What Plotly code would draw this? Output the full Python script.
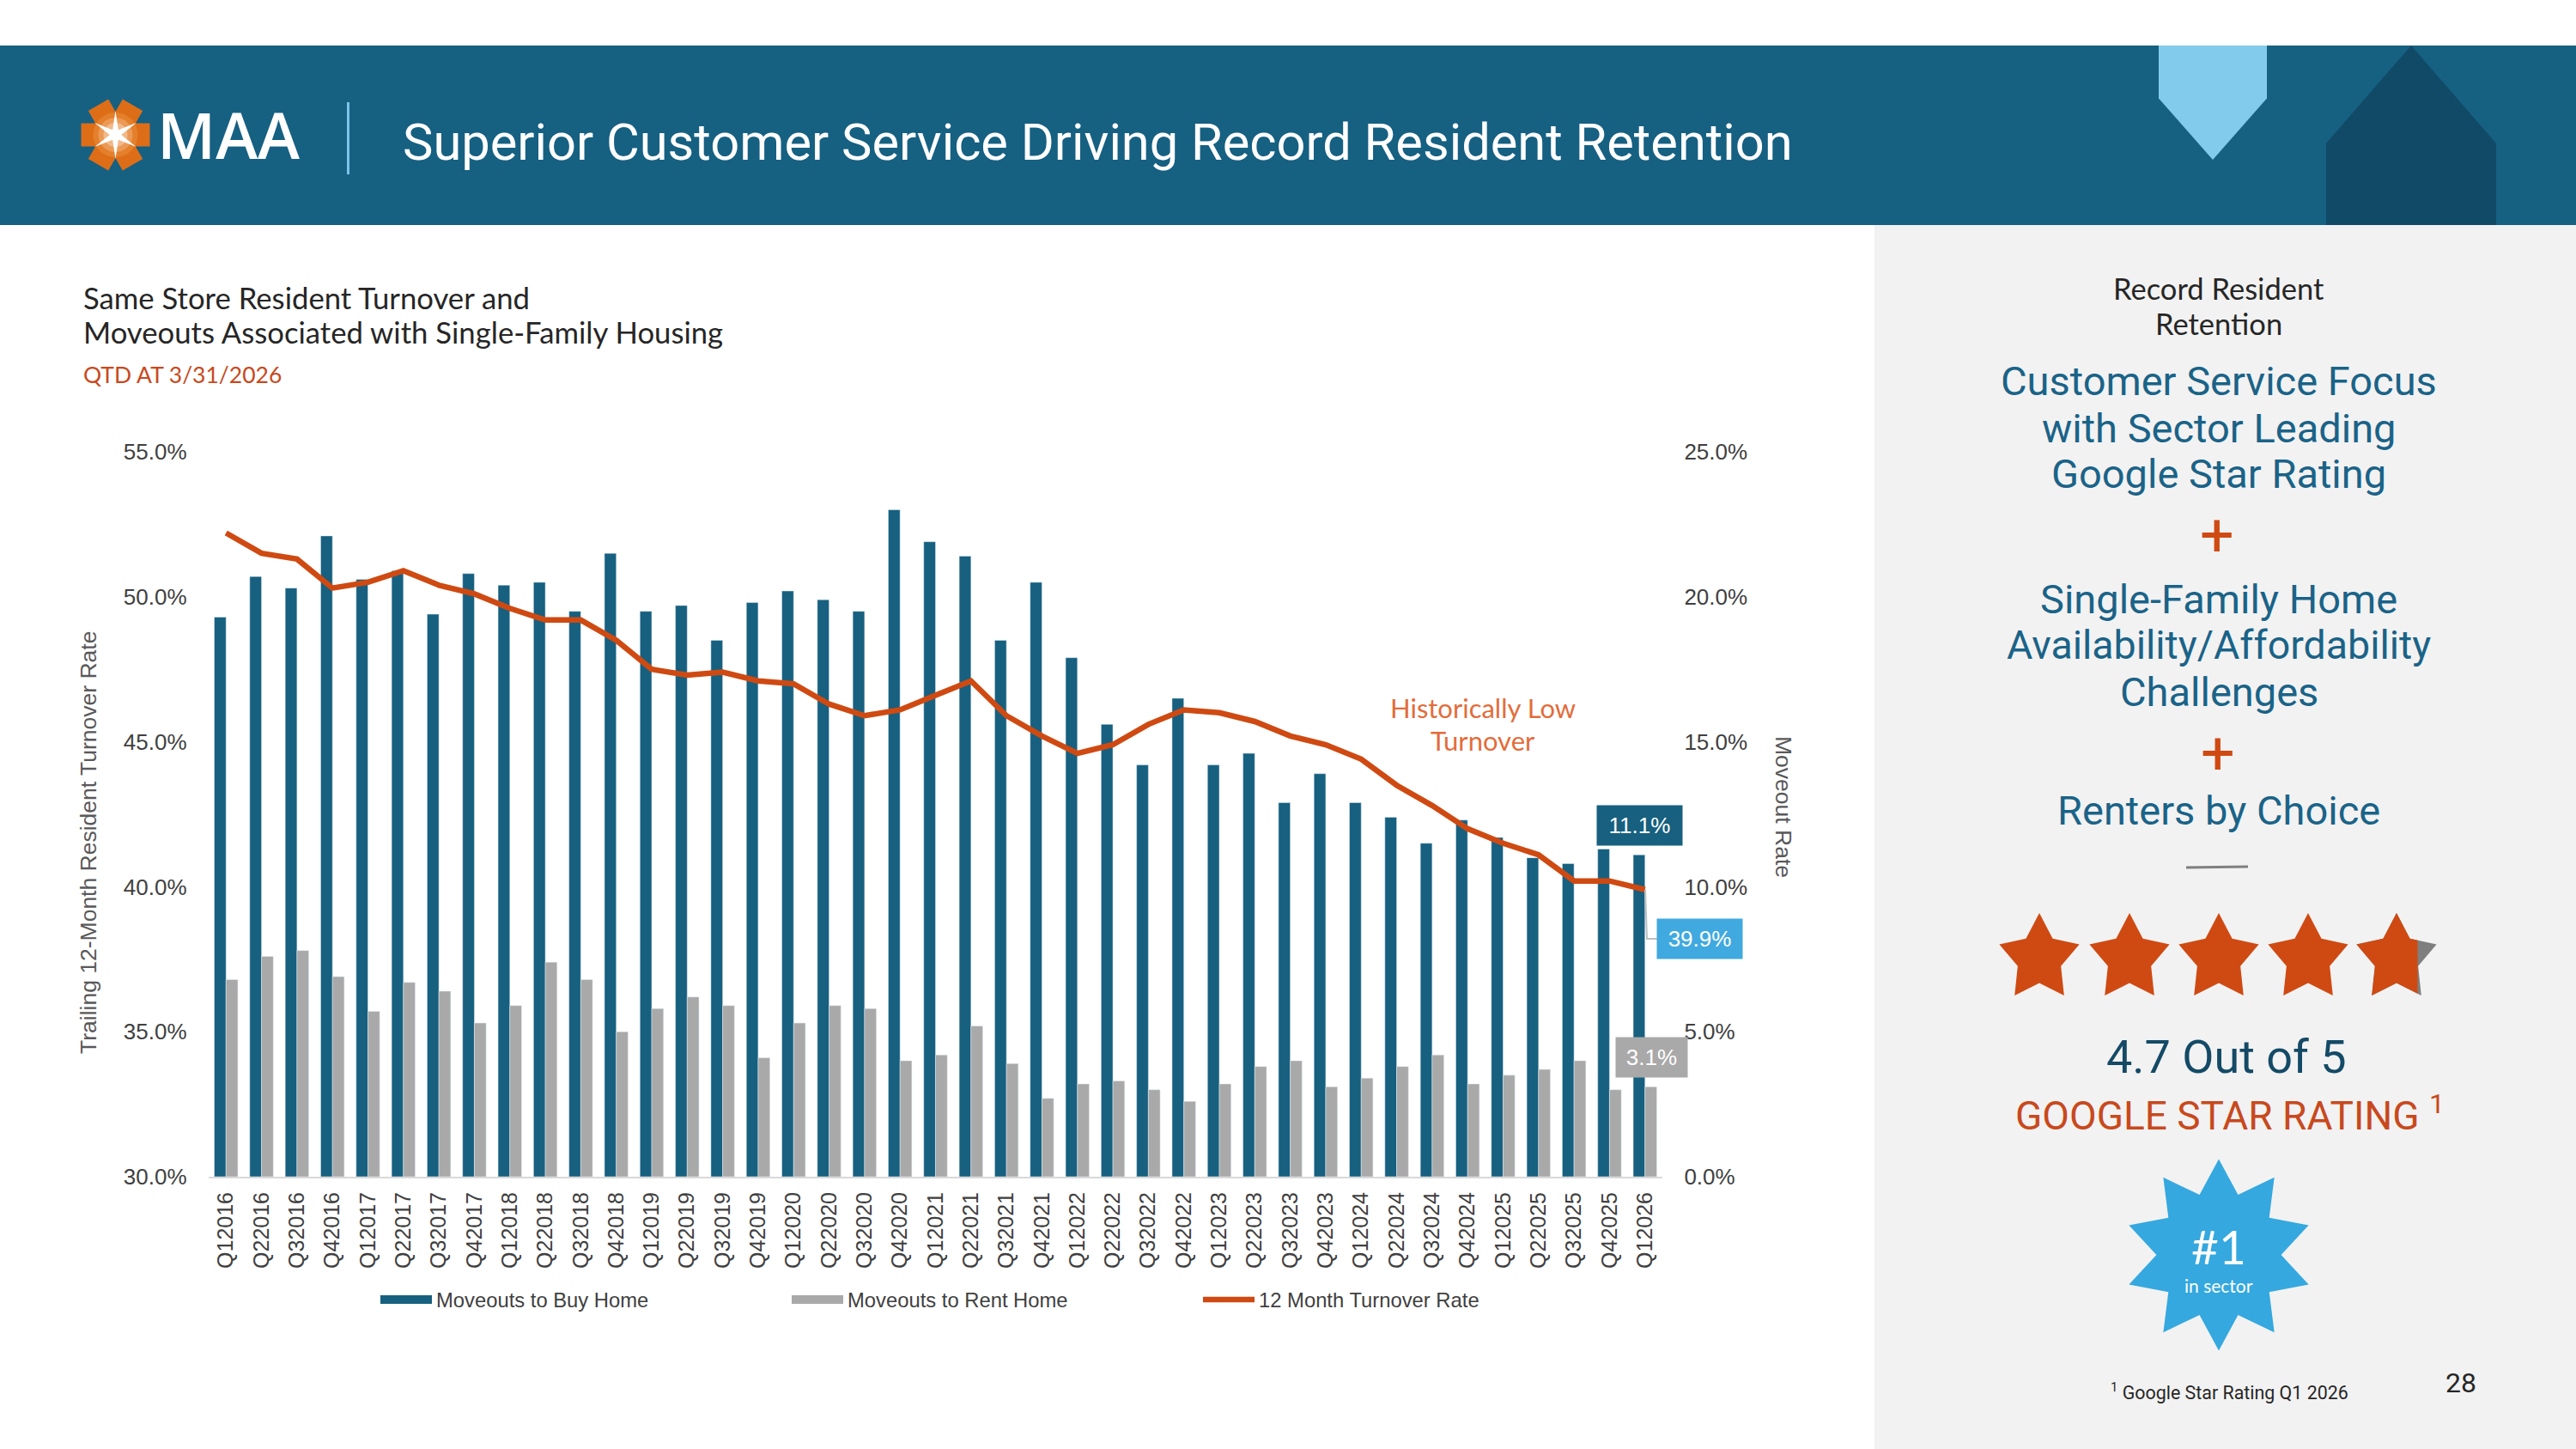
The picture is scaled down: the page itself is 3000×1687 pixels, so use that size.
import math
import plotly.graph_objects as go

W, H = 3000, 1687

quarters = [
    "Q12016", "Q22016", "Q32016", "Q42016", "Q12017", "Q22017", "Q32017", "Q42017",
    "Q12018", "Q22018", "Q32018", "Q42018", "Q12019", "Q22019", "Q32019", "Q42019",
    "Q12020", "Q22020", "Q32020", "Q42020", "Q12021", "Q22021", "Q32021", "Q42021",
    "Q12022", "Q22022", "Q32022", "Q42022", "Q12023", "Q22023", "Q32023", "Q42023",
    "Q12024", "Q22024", "Q32024", "Q42024", "Q12025", "Q22025", "Q32025", "Q42025",
    "Q12026",
]
buy_home = [
    19.3, 20.7, 20.3, 22.1, 20.6, 20.9, 19.4, 20.8,
    20.4, 20.5, 19.5, 21.5, 19.5, 19.7, 18.5, 19.8,
    20.2, 19.9, 19.5, 23.0, 21.9, 21.4, 18.5, 20.5,
    17.9, 15.6, 14.2, 16.5, 14.2, 14.6, 12.9, 13.9,
    12.9, 12.4, 11.5, 12.3, 11.7, 11.0, 10.8, 11.3,
    11.1,
]
rent_home = [
    6.8, 7.6, 7.8, 6.9, 5.7, 6.7, 6.4, 5.3,
    5.9, 7.4, 6.8, 5.0, 5.8, 6.2, 5.9, 4.1,
    5.3, 5.9, 5.8, 4.0, 4.2, 5.2, 3.9, 2.7,
    3.2, 3.3, 3.0, 2.6, 3.2, 3.8, 4.0, 3.1,
    3.4, 3.8, 4.2, 3.2, 3.5, 3.7, 4.0, 3.0,
    3.1,
]
turnover = [
    52.2, 51.5, 51.3, 50.3, 50.5, 50.9, 50.4, 50.1,
    49.6, 49.2, 49.2, 48.5, 47.5, 47.3, 47.4, 47.1,
    47.0, 46.3, 45.9, 46.1, 46.6, 47.1, 45.9, 45.2,
    44.6, 44.9, 45.6, 46.1, 46.0, 45.7, 45.2, 44.9,
    44.4, 43.5, 42.8, 42.0, 41.5, 41.1, 40.2, 40.2,
    39.9,
]
left_ticks = [30, 35, 40, 45, 50, 55]
right_ticks = [0, 5, 10, 15, 20, 25]

NAVY = "#17607F"
GREY = "#A9A9A9"
RUST = "#CF4A12"
SKY = "#40A9E0"
INK = "#404040"

BODY = "Roboto"
HUMANIST = "Lato"
AXIS = "Liberation Sans"


def px(x):
    return x / W


def py(y):
    return 1 - y / H


def text(x, y, s, size, color, font=BODY, anchor="center", angle=0, weight=None):
    fnt = dict(family=font, size=size, color=color)
    if weight:
        fnt["weight"] = weight
    return dict(
        xref="paper", yref="paper", x=px(x), y=py(y), text=s, showarrow=False,
        xanchor=anchor, yanchor="middle", textangle=angle, font=fnt,
    )


def polygon(points, fill):
    path = "M" + " L".join(f"{px(x):.5f},{py(y):.5f}" for x, y in points) + " Z"
    return dict(type="path", xref="paper", yref="paper", path=path,
                fillcolor=fill, line=dict(width=0), layer="below")


def box(x0, y0, x1, y1, fill):
    return polygon([(x0, y0), (x1, y0), (x1, y1), (x0, y1)], fill)


def segment(points, color, width):
    path = "M" + " L".join(f"{px(x):.5f},{py(y):.5f}" for x, y in points)
    return dict(type="path", xref="paper", yref="paper", path=path,
                line=dict(color=color, width=width), layer="above")


def star(cx, cy, rx, ry, inner, tips):
    pts = []
    for i in range(tips * 2):
        a = math.pi * i / tips
        k = 1 if i % 2 == 0 else inner
        pts.append((cx + rx * k * math.sin(a), cy - ry * k * math.cos(a)))
    return pts


def clip_right(points, limit):
    # Keeps the part of a polygon left of a vertical line.
    out = []
    for i, (x0, y0) in enumerate(points):
        x1, y1 = points[(i + 1) % len(points)]
        if x0 <= limit:
            out.append((x0, y0))
        if (x0 <= limit) != (x1 <= limit):
            t = (limit - x0) / (x1 - x0)
            out.append((limit, y0 + t * (y1 - y0)))
    return out


def arm(cx, cy, angle, length, width):
    a = math.radians(angle)
    ux, uy = math.cos(a), math.sin(a)
    vx, vy = -uy, ux
    h = width / 2
    return [
        (cx + vx * h, cy + vy * h),
        (cx + ux * length + vx * h, cy + uy * length + vy * h),
        (cx + ux * length - vx * h, cy + uy * length - vy * h),
        (cx - vx * h, cy - vy * h),
    ]


def disc(cx, cy, r, fill):
    return dict(type="circle", xref="paper", yref="paper",
                x0=px(cx - r), x1=px(cx + r), y0=py(cy + r), y1=py(cy - r),
                fillcolor=fill, line=dict(width=0), layer="below")


fig = go.Figure()

fig.add_trace(go.Bar(x=quarters, y=buy_home, marker_color=NAVY, name="Moveouts to Buy Home",
                     showlegend=False, yaxis="y"))
fig.add_trace(go.Bar(x=quarters, y=rent_home, marker_color=GREY, name="Moveouts to Rent Home",
                     showlegend=False, yaxis="y"))
fig.add_trace(go.Scatter(x=quarters, y=turnover, mode="lines", yaxis="y2", showlegend=False,
                         name="12 Month Turnover Rate",
                         line=dict(color=RUST, width=6.5, shape="linear")))

# Legend rows: wide flat swatches come from thick line keys.
for label, color, width in [("Moveouts to Buy Home", NAVY, 14),
                            ("Moveouts to Rent Home", GREY, 14),
                            ("12 Month Turnover Rate", RUST, 6.5)]:
    fig.add_trace(go.Scatter(x=quarters[:1], y=[None], mode="lines", name=label, yaxis="y2",
                             line=dict(color=color, width=width)))

shapes = [
    box(2183, 262, W, H, "#F2F2F2"),
    box(0, 53, W, 262, "#166082"),
    polygon([(2514, 53), (2640, 53), (2640, 114.5), (2577, 186), (2514, 114.5)], "#83CBEC"),
    polygon([(2808, 53), (2907, 167), (2907, 262), (2709, 262), (2709, 167)], "#114A67"),
]

# Logo mark: six orange arms, a soft glow, a white spark.
LOGO_X, LOGO_Y = 134.5, 157
for ang in (0, 60, 120, 180, 240, 300):
    shapes.append(polygon(arm(LOGO_X, LOGO_Y, ang, 40, 27), "#DD6E17"))
shapes += [
    disc(LOGO_X, LOGO_Y, 26, "#E47F2C"),
    disc(LOGO_X, LOGO_Y, 20, "#EB9A55"),
    disc(LOGO_X, LOGO_Y, 14, "#F2B98A"),
    polygon(star(LOGO_X, LOGO_Y, 28, 28, 0.24, 6), "#FFFFFF"),
]
shapes.append(segment([(405.5, 119), (405.5, 203)], "#7CC4EA", 3))

# Rating stars and the sector badge.
star_x = [2375, 2480, 2584, 2688, 2791]
for cx in star_x[:4]:
    shapes.append(polygon(star(cx, 1116, 49, 53, 0.54, 5), RUST))
last = star(star_x[4], 1116, 49, 53, 0.54, 5)
shapes.append(polygon(last, "#7F7F7F"))
shapes.append(polygon(clip_right(last, 2815.5), RUST))
shapes.append(polygon(star(2584, 1461, 110, 111.5, 0.66, 10), "#35A8DF"))
shapes.append(segment([(2546, 1010), (2618, 1009)], "#7F7F7F", 3))

# Leader from the last turnover point to its label.
shapes.append(segment([(1916, 1036), (1918, 1093), (1931, 1093)], "#BFBFBF", 2))

last_q = quarters[-1]


def value_tag(value, yref, fill, dx, dy, w, h=44):
    return dict(
        x=last_q, y=value, xref="x", yref=yref, text=f"{value:.1f}%", showarrow=False,
        xshift=dx, yshift=dy, width=w, height=h, bgcolor=fill, align="center",
        valign="middle", font=dict(family=AXIS, size=26, color="#FFFFFF"),
    )


annotations = [
    text(181, 156, "MAA", 74, "#FFFFFF", font="Open Sans", anchor="left", weight=600),
    text(467, 166, "Superior Customer Service Driving Record Resident Retention", 59.6, "#FFFFFF", anchor="left"),
    text(95, 347, "Same Store Resident Turnover and", 34.7, "#262626", font=HUMANIST, anchor="left"),
    text(95, 387, "Moveouts Associated with Single-Family Housing", 34.7, "#262626", font=HUMANIST, anchor="left"),
    text(95, 436, "QTD AT 3/31/2026", 26.5, "#C8491D", font=HUMANIST, anchor="left"),
    text(103, 981, "Trailing 12-Month Resident Turnover Rate", 26.5, "#595959", font=AXIS, angle=-90),
    text(2077, 939, "Moveout Rate", 26.5, "#595959", font=AXIS, angle=90),
    text(1727, 824, "Historically Low", 31, "#E36C3A", font=HUMANIST),
    text(1727, 862, "Turnover", 31, "#E36C3A", font=HUMANIST),
    text(2584, 336, "Record Resident", 34.5, "#262626", font=HUMANIST),
    text(2584, 376, "Retention", 34.5, "#262626", font=HUMANIST),
    text(2584, 444, "Customer Service Focus", 47, "#1A6388"),
    text(2584, 498, "with Sector Leading", 47, "#1A6388"),
    text(2584, 552, "Google Star Rating", 47, "#1A6388"),
    text(2582, 623, "+", 70, RUST),
    text(2584, 697, "Single-Family Home", 47, "#1A6388"),
    text(2584, 751, "Availability/Affordability", 46.5, "#1A6388"),
    text(2584, 805, "Challenges", 47, "#1A6388"),
    text(2583, 877, "+", 70, RUST),
    text(2584, 943, "Renters by Choice", 47, "#1A6388"),
    text(2593, 1230, "4.7 Out of 5", 54, "#144A66"),
    text(2597, 1296, "GOOGLE STAR RATING <sup>1</sup>", 46, "#C8491D"),
    text(2584, 1451, "#1", 55, "#FFFFFF", font=HUMANIST),
    text(2584, 1496, "in sector", 21, "#FFFFFF", font=HUMANIST),
    text(2456, 1620, "<sup>1</sup> Google Star Rating Q1 2026", 21.4, "#262626", anchor="left"),
    text(2866, 1610, "28", 32, "#262626"),
    value_tag(buy_home[-1], "y", NAVY, -6.7, 34, 97),
    value_tag(turnover[-1], "y2", SKY, 64, -57, 97),
    value_tag(rent_home[-1], "y", GREY, 8, 34, 81),
]

PLOT_X0, PLOT_X1 = 242.6, 1936.4
PLOT_TOP, PLOT_BOTTOM = 526, 1370

fig.update_layout(
    width=W, height=H,
    margin=dict(l=0, r=0, t=0, b=0, pad=0, autoexpand=False),
    paper_bgcolor="#FFFFFF", plot_bgcolor="rgba(0,0,0,0)",
    barmode="group", bargap=0.336, bargroupgap=0,
    shapes=shapes, annotations=annotations,
    font=dict(family=AXIS, color=INK),
    xaxis=dict(
        domain=[px(PLOT_X0), px(PLOT_X1)], type="category", categoryorder="array",
        categoryarray=quarters, range=[-0.5, len(quarters) - 0.5], tickangle=-90, showgrid=False,
        showline=True, linecolor="#D9D9D9", linewidth=2, ticks="",
        tickfont=dict(family=AXIS, size=25, color=INK), ticklabelstandoff=6,
    ),
    yaxis=dict(
        domain=[py(PLOT_BOTTOM), py(PLOT_TOP)], range=[0, 25], side="right",
        tickvals=right_ticks, ticktext=[f"{v:.1f}%" for v in right_ticks],
        showgrid=False, zeroline=False, showline=False,
        tickfont=dict(family=AXIS, size=26, color=INK), ticklabelstandoff=24,
    ),
    yaxis2=dict(
        domain=[py(PLOT_BOTTOM), py(PLOT_TOP)], range=[30, 55], side="left", overlaying="y",
        tickvals=left_ticks, ticktext=[f"{v:.1f}%" for v in left_ticks],
        showgrid=False, zeroline=False, showline=False,
        tickfont=dict(family=AXIS, size=26, color=INK), ticklabelstandoff=24,
    ),
    legend=dict(
        orientation="h", x=px(438), y=py(1513), xanchor="left", yanchor="middle",
        bgcolor="rgba(0,0,0,0)", itemwidth=60, entrywidth=404, entrywidthmode="pixels",
        font=dict(family=AXIS, size=23.8, color=INK), itemclick=False, itemdoubleclick=False,
    ),
)

fig.write_html("out.html")
